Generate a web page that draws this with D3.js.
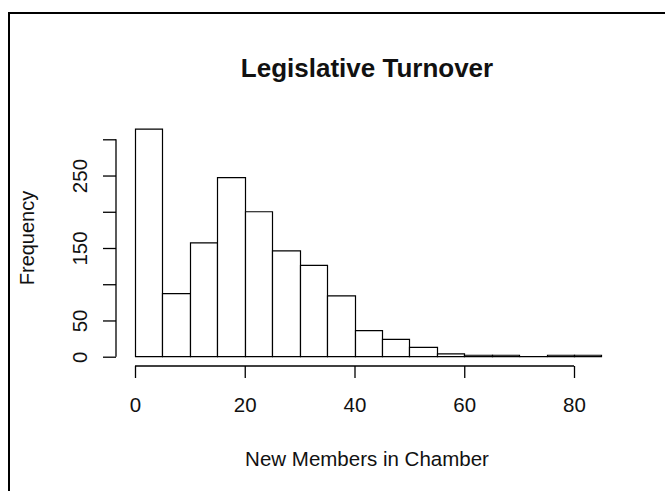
<!DOCTYPE html>
<html>
<head>
<meta charset="utf-8">
<script src="https://cdn.jsdelivr.net/npm/d3@7"></script>
<style>
  html, body { margin: 0; padding: 0; background: #fff; overflow: hidden; }
  svg { display: block; }
  text { font-family: "Liberation Sans", Arial, sans-serif; fill: #111; }
</style>
</head>
<body>
<script>
// Histogram bins (width 5) and their counts
const binStarts = [0, 5, 10, 15, 20, 25, 30, 35, 40, 45, 50, 55, 60, 65, 70, 75, 80];
const binWidth = 5;
const counts = [314, 87, 157, 247, 200, 146, 126, 84, 36, 24, 13, 4, 2, 2, 0, 2, 2];

const xTicks = [0, 20, 40, 60, 80];
const yTicks = [0, 50, 100, 150, 200, 250, 300];
const yTickLabels = [0, 50, 150, 250];

const titleText = "Legislative Turnover";
const xTitle = "New Members in Chamber";
const yTitle = "Frequency";

const W = 665, H = 491;
const svg = d3.select("body").append("svg").attr("width", W).attr("height", H);

// outer frame (top and left edges visible)
svg.append("rect")
  .attr("x", 9).attr("y", 13)
  .attr("width", W + 20).attr("height", H + 20)
  .attr("fill", "none").attr("stroke", "#000").attr("stroke-width", 2);

const x = d3.scaleLinear().domain([0, 80]).range([135, 574]);
const y = d3.scaleLinear().domain([0, 300]).range([356.7, 139.3]);

// bars drawn as closed paths so empty bins still show their base line
svg.append("g").selectAll("path")
  .data(binStarts.map((s, i) => ({ s, c: counts[i] })))
  .join("path")
  .attr("d", d => {
    const x0 = Math.round(x(d.s)) + 0.5;
    const x1 = Math.round(x(d.s + binWidth)) + 0.5;
    const y0 = y(0), y1 = y(d.c);
    return `M${x0},${y0}V${y1}H${x1}V${y0}Z`;
  })
  .attr("fill", "#fff")
  .attr("stroke", "#000")
  .attr("stroke-width", 1.2);

// x axis
const xAxis = d3.axisBottom(x).tickValues(xTicks).tickSize(12).tickPadding(19)
  .tickFormat(d3.format("d"));
const gx = svg.append("g").attr("transform", "translate(0,366)").call(xAxis);
gx.select(".domain").attr("d", `M${x(0)},0H${x(80)}`).attr("stroke", "#000").attr("stroke-width", 1.3);
gx.selectAll(".tick line").attr("stroke", "#000").attr("stroke-width", 1.3);
gx.selectAll(".tick text")
  .style("font-family", '"Liberation Sans", Arial, sans-serif')
  .style("font-size", "20.5px").attr("fill", "#111");

// y axis
const yAxis = d3.axisLeft(y).tickValues(yTicks).tickSize(13).tickPadding(0)
  .tickFormat(d => yTickLabels.includes(d) ? d : "");
const gy = svg.append("g").attr("transform", "translate(116,0)").call(yAxis);
gy.select(".domain").attr("d", `M0,${y(0)}V${y(300)}`).attr("stroke", "#000").attr("stroke-width", 1.3);
gy.selectAll(".tick line").attr("stroke", "#000").attr("stroke-width", 1.3);
gy.selectAll(".tick text")
  .attr("x", 0).attr("dy", null)
  .attr("transform", "translate(-29.5,0) rotate(-90)")
  .attr("text-anchor", "middle")
  .style("font-family", '"Liberation Sans", Arial, sans-serif')
  .style("font-size", "20.5px").attr("fill", "#111");

// title
svg.append("text")
  .attr("x", 367).attr("y", 77)
  .attr("text-anchor", "middle")
  .style("font-size", "26px").style("font-weight", "bold")
  .text(titleText);

// axis titles
svg.append("text")
  .attr("x", 367).attr("y", 466)
  .attr("text-anchor", "middle")
  .style("font-size", "20.5px")
  .text(xTitle);

svg.append("text")
  .attr("transform", "translate(34,238) rotate(-90)")
  .attr("text-anchor", "middle")
  .style("font-size", "20px")
  .text(yTitle);
</script>
</body>
</html>
